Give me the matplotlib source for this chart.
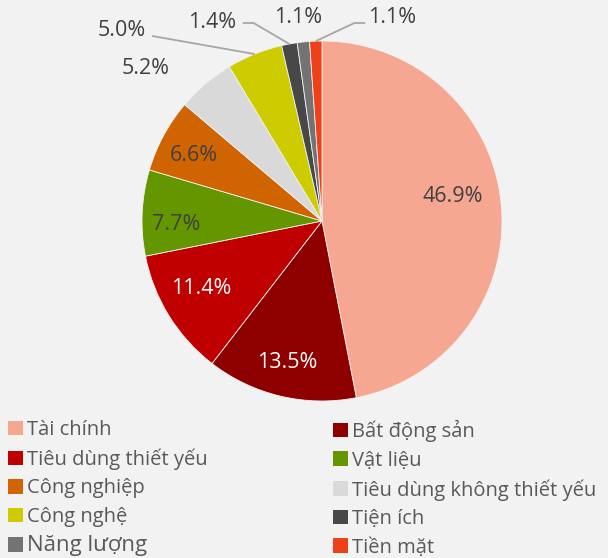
import numpy as np
import matplotlib
matplotlib.use("Agg")
import matplotlib.pyplot as plt
from matplotlib.patches import Patch

plt.rcParams['font.family'] = ['Open Sans', 'DejaVu Sans']

categories = ["Tài chính", "Bất động sản", "Tiêu dùng thiết yếu", "Vật liệu",
              "Công nghiệp", "Tiêu dùng không thiết yếu", "Công nghệ", "Tiện ích",
              "Năng lượng", "Tiền mặt"]
values = [46.9, 13.5, 11.4, 7.7, 6.6, 5.2, 5.0, 1.4, 1.1, 1.1]
colors = ["#F5A791", "#8E0000", "#C00000", "#649600", "#CF6400",
          "#D9D9D9", "#CCCC00", "#484848", "#737373", "#EE4019"]
label_colors = ["#404040", "white", "white", "#404040", "#404040",
                "#404040", "#404040", "#404040", "#404040", "#404040"]

BG = "#F2F2F2"
TXT = "#404040"
LEG_TXT = "#595959"

fig = plt.figure(figsize=(6.08, 5.58), dpi=100, facecolor=BG)
ax = fig.add_axes([142/608, 1 - 401/558, 360/608, 360/558])
ax.set_facecolor(BG)

wedges, _ = ax.pie(values, colors=colors, startangle=90, counterclock=False,
                   wedgeprops=dict(edgecolor="#F2F2F2", linewidth=0.6), radius=1.0)
ax.set_xlim(-1, 1)
ax.set_ylim(-1, 1)
ax.set_aspect('equal')
ax.axis('off')

# inside label placement (style): radial distance, angular tweak in degrees
inside = {0: (0.74, 5.0), 1: (0.81, -0.5), 2: (0.77, -2.5), 3: (0.81, 4.0), 4: (0.80, 1.5)}
# outside labels: text position and optional leader elbow/end (layout)
outside = {5: dict(text=(-0.98, 0.85)),
           6: dict(text=(-1.11, 1.06), path=[(-0.944, 1.028)]),
           7: dict(text=(-0.61, 1.10), path=[(-0.38, 1.10), (-0.44, 1.10)]),
           8: dict(text=(-0.13, 1.13)),
           9: dict(text=(0.39, 1.13), path=[(0.18, 1.10), (0.24, 1.10)])}

for i, w in enumerate(wedges):
    mid = (w.theta1 + w.theta2) / 2
    lbl = f"{values[i]:.1f}%"
    if i in inside:
        d, tweak = inside[i]
        a = np.deg2rad(mid + tweak)
        ax.text(d * np.cos(a), d * np.sin(a), lbl, ha='center', va='center',
                fontsize=15.5, color=label_colors[i])
    else:
        o = outside[i]
        tx, ty = o['text']
        ax.text(tx, ty, lbl, ha='center', va='center', fontsize=15.5, color=TXT)
        if 'path' in o:
            a = np.deg2rad(mid)
            xs = [np.cos(a)] + [p[0] for p in o['path']]
            ys = [np.sin(a)] + [p[1] for p in o['path']]
            ax.plot(xs, ys, color="#A6A6A6", lw=1.3, clip_on=False,
                    solid_capstyle='butt')

handles = [Patch(facecolor=c, edgecolor='none') for c in colors]
col1 = [0, 2, 4, 6, 8]
col2 = [1, 3, 5, 7, 9]
for idxs, x0 in ((col1, 2/608), (col2, 327/608)):
    leg = fig.legend([handles[i] for i in idxs], [categories[i] for i in idxs],
                     loc='upper left', bbox_to_anchor=(x0, 1 - 414/558),
                     frameon=False, fontsize=14.5, labelcolor=LEG_TXT,
                     handlelength=0.75, handleheight=0.75, handletextpad=0.2,
                     labelspacing=0.42, borderaxespad=0, borderpad=0.3)
    for t, i in zip(leg.get_texts(), idxs):
        if categories[i] == "Năng lượng":
            t.set_fontsize(16.0)

fig.savefig("out.png", dpi=100, facecolor=BG)
